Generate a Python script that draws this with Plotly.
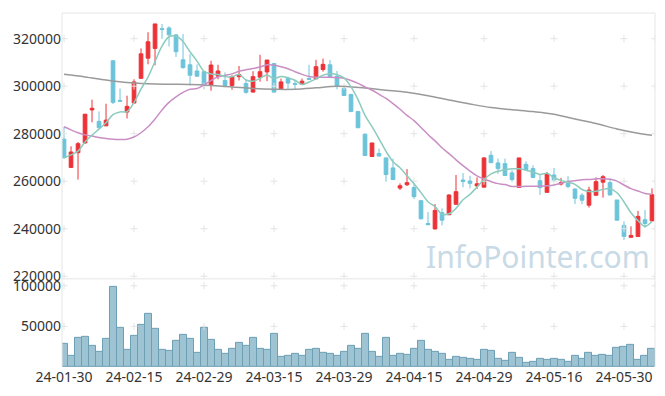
import plotly.graph_objects as go
from plotly.subplots import make_subplots
import pandas as pd

dates = ["24-01-30","24-01-31","24-02-01","24-02-02","24-02-05","24-02-06","24-02-07","24-02-08",
         "24-02-13","24-02-14","24-02-15","24-02-16","24-02-19","24-02-20","24-02-21","24-02-22",
         "24-02-23","24-02-26","24-02-27","24-02-28","24-02-29","24-03-04","24-03-05","24-03-06",
         "24-03-07","24-03-08","24-03-11","24-03-12","24-03-13","24-03-14","24-03-15","24-03-18",
         "24-03-19","24-03-20","24-03-21","24-03-22","24-03-25","24-03-26","24-03-27","24-03-28",
         "24-03-29","24-04-01","24-04-02","24-04-03","24-04-04","24-04-05","24-04-08","24-04-09",
         "24-04-11","24-04-12","24-04-15","24-04-16","24-04-17","24-04-18","24-04-19","24-04-22",
         "24-04-23","24-04-24","24-04-25","24-04-26","24-04-29","24-04-30","24-05-02","24-05-03",
         "24-05-07","24-05-08","24-05-09","24-05-10","24-05-13","24-05-14","24-05-16","24-05-17",
         "24-05-20","24-05-21","24-05-22","24-05-23","24-05-24","24-05-27","24-05-28","24-05-29",
         "24-05-30","24-05-31","24-06-03","24-06-04","24-06-05"]

opens = [277700,265800,272000,276100,290000,285200,283300,310700,294000,289100,
         292900,303300,311800,315900,324200,324500,321600,311100,309000,306400,
         306100,300300,304200,302400,300300,304000,301100,297500,303800,306000,
         309500,298700,303200,301100,300800,303200,303100,307000,309000,304200,
         299000,296500,289300,279800,270400,271700,269800,265600,257100,258500,
         257300,251800,242200,239900,246800,245900,250300,260500,260100,258000,
         257500,270900,267700,267400,263500,257400,267100,265300,260200,255300,
         262600,258800,259100,256700,254100,249900,254100,259600,259400,252100,
         241400,236400,236700,243800,243300]
highs = [282900,274700,276500,288300,294300,289400,292600,310800,299000,296000,
         302900,315900,322700,326200,326200,325200,321600,321900,313500,309200,
         306200,310700,309000,305800,304600,308500,302600,306300,313200,311000,
         309700,303200,304000,302600,303200,309000,311100,311600,311000,306400,
         300100,296800,289600,280100,276100,273700,269800,269500,259100,265100,
         259100,251800,247000,250400,248600,254500,262600,263400,262300,261600,
         270100,272700,269500,269500,264600,269800,268400,266700,262600,263900,
         265600,261400,262100,257000,254900,257700,261600,262600,261200,252100,
         243100,241000,247500,247900,257000]
lows = [269500,265600,260700,275800,284800,282300,283200,292500,293500,286400,
        292800,303200,309200,308800,319900,316700,312300,307400,300300,304000,
        298700,298100,302900,300100,298500,302400,296800,297400,301900,302100,
        297400,298500,298500,298500,300600,302600,302900,306100,303900,298700,
        296000,289300,282500,270600,270200,270400,259800,260600,256300,258000,
        252500,243900,241500,239700,241400,245700,250200,257400,257000,256700,
        257400,267700,263100,262300,259800,257300,264600,261500,254200,255200,
        259800,258200,257000,250400,250300,248900,253900,253100,254100,243500,
        235300,236300,236600,240300,243200]
closes = [269900,272300,275800,288200,290700,282500,285700,293200,293700,291500,
          301800,313600,318700,326200,323900,321600,314500,307800,304600,304200,
          300300,308900,306400,300300,304000,304900,297400,304000,306100,311000,
          297500,301800,301300,300800,302100,302900,308200,309200,304000,299900,
          296100,289300,282500,270800,276100,270600,262800,260700,258100,259400,
          253500,244200,241700,247700,243600,254200,255600,259900,259100,258900,
          269800,267800,265300,262400,260700,269800,264900,261600,257300,263000,
          260500,259400,257800,252800,252000,256300,259800,261900,254200,243600,
          236800,237200,245200,242200,254300]
volumes = [28000,13400,36200,37400,26400,18300,35000,98800,48400,20700,
           38600,52000,65400,47200,20700,19500,31700,39800,35000,17100,
           48400,33700,20700,15900,22000,29300,25600,36200,22000,20700,
           40200,12200,13400,16700,13400,20700,22000,17100,15900,14200,
           18300,25600,22800,40200,18300,12200,36200,14200,16700,15400,
           22800,32500,20700,18300,16700,8500,13000,11800,10600,8500,
           21500,19500,10600,7300,17900,11800,4500,6900,10600,8500,
           10600,9300,6100,14200,10600,17900,14200,15400,14200,24000,
           25200,27600,9300,14200,22800]

# 20-day line values before 20 sessions are available
ma20_early = [282900,281600,280400,279500,279000,278400,278000,277700,277600,277700,
              278600,280400,282900,286200,290000,293200,295500,297400,298700]
# long-term average line
ma_long_idx = [0,3,6,9,12,15,18,21,24,27,30,33,36,39,43,46,49,52,55,58,61,64,67,70,73,76,79,82,84]
ma_long_val = [305000,303900,302600,301500,301000,300800,300700,300300,299700,299000,
               298700,298700,299300,300000,299200,298300,297400,296000,294200,292500,
               291000,290100,289300,288200,286200,284300,282000,280200,279300]

price_ticks = [220000,240000,260000,280000,300000,320000]
vol_ticks = [50000,100000]
xtick_idx = list(range(0, len(dates), 10))
xtick_txt = [dates[i] for i in xtick_idx]

idx = list(range(len(dates)))
cs = pd.Series(closes)
ma5 = cs.rolling(5, min_periods=1).mean().tolist()
ma20_calc = cs.rolling(20).mean().tolist()
ma20 = ma20_early + ma20_calc[len(ma20_early):]

x_range = [-0.29, 84.43]
vol_dom = 0.249

fig = make_subplots(rows=2, cols=1, shared_xaxes=True, vertical_spacing=0,
                    row_heights=[1 - vol_dom, vol_dom])

# grid crosses
gx = xtick_idx + [x_range[1]]
for row, yt in ((1, price_ticks), (2, vol_ticks)):
    xs, ys = [], []
    for xv in gx:
        for yv in yt:
            xs.append(xv); ys.append(yv)
    fig.add_trace(go.Scatter(x=xs, y=ys, mode="markers",
                             marker=dict(symbol="cross-thin", size=5,
                                         line=dict(color="#e4e4e4", width=1)),
                             hoverinfo="skip", showlegend=False), row=row, col=1)

fig.add_trace(go.Scatter(x=ma_long_idx, y=ma_long_val, mode="lines", line_shape="spline",
                         line=dict(color="#9a9a9a", width=1.5), showlegend=False), row=1, col=1)
fig.add_trace(go.Scatter(x=idx, y=ma20, mode="lines", line_shape="spline",
                         line=dict(color="#c98fc5", width=1.5), showlegend=False), row=1, col=1)
fig.add_trace(go.Scatter(x=idx, y=ma5, mode="lines", line_shape="spline",
                         line=dict(color="#8ccbbd", width=1.5), showlegend=False), row=1, col=1)

fig.add_trace(go.Candlestick(x=idx, open=opens, high=highs, low=lows, close=closes,
                             increasing=dict(line=dict(color="#ec3237", width=1), fillcolor="#ec3237"),
                             decreasing=dict(line=dict(color="#6cc3da", width=1), fillcolor="#6cc3da"),
                             whiskerwidth=0, showlegend=False), row=1, col=1)

fig.add_trace(go.Bar(x=idx, y=volumes, marker=dict(color="rgba(148,189,206,0.9)",
                                                   line=dict(color="#6d9fb5", width=1)),
                     showlegend=False), row=2, col=1)

font = dict(family="Noto Sans", size=14, color="#333333")
fig.update_layout(width=665, height=396, margin=dict(l=62, r=10, t=10, b=29),
                  paper_bgcolor="white", plot_bgcolor="white", font=font,
                  bargap=0, boxgap=0.25, showlegend=False)
fig.update_xaxes(range=x_range, showgrid=False, zeroline=False, showline=False,
                 rangeslider=dict(visible=False))
fig.update_xaxes(showticklabels=False, row=1, col=1)
fig.update_xaxes(tickvals=xtick_idx, ticktext=xtick_txt, ticks="", row=2, col=1)
fig.update_yaxes(range=[218900, 330800], tickvals=price_ticks, tickformat="d", showgrid=False,
                 zeroline=False, ticks="", row=1, col=1)
fig.update_yaxes(range=[0, 108500], tickvals=vol_ticks, tickformat="d", showgrid=False,
                 zeroline=False, ticks="", row=2, col=1)

bc = "#e6e6e6"
for (x0, y0, x1, y1) in ((0, 0, 0, 1), (0, 1, 1, 1), (1, 0, 1, 1), (0, vol_dom, 1, vol_dom)):
    fig.add_shape(type="line", xref="paper", yref="paper", x0=x0, y0=y0, x1=x1, y1=y1,
                  line=dict(color=bc, width=1))

fig.add_annotation(text="InfoPointer.com", xref="paper", yref="paper", x=0.803, y=0.311,
                   xanchor="center", yanchor="middle", showarrow=False,
                   font=dict(family="Noto Sans", size=30, color="#c8dae6"))

fig.write_html("out.html", config={"displayModeBar": False},
               post_script="document.body.style.margin='0';")
